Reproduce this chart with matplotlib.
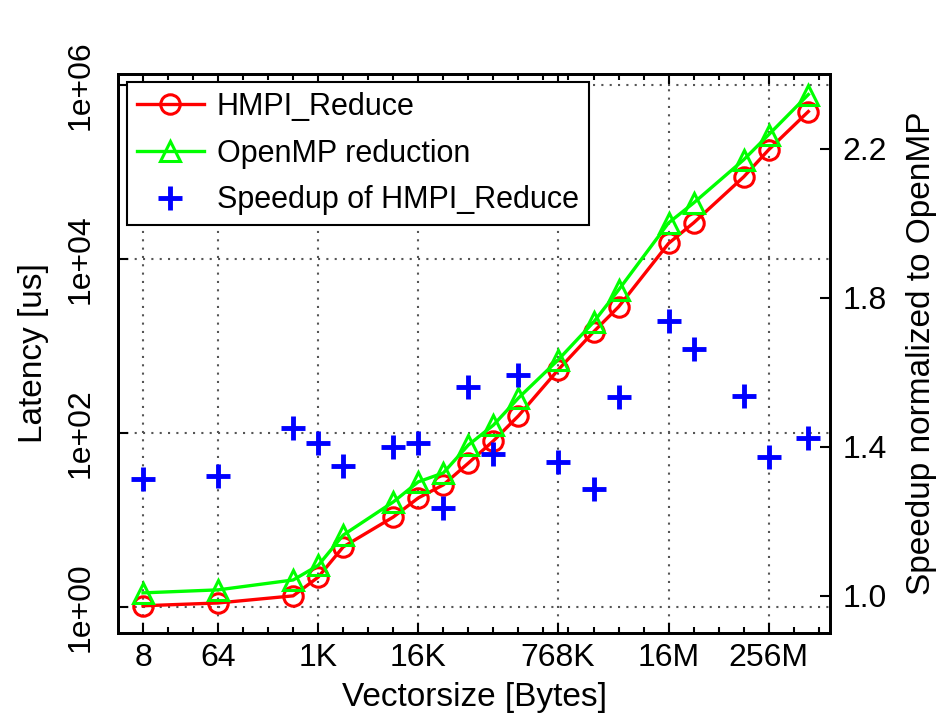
import matplotlib.pyplot as plt
import matplotlib
import numpy as np
from matplotlib.lines import Line2D

matplotlib.rcParams['font.family'] = ['Liberation Sans', 'DejaVu Sans']
matplotlib.rcParams['font.size'] = 23

# vector sizes in bytes
sizes = [8, 64, 512, 1024, 2048, 8192, 16384, 32768, 65536, 131072, 262144,
         786432, 2097152, 4194304, 16777216, 33554432, 134217728, 268435456, 805306368]
# latency [us]
hmpi = [1.03, 1.11, 1.34, 2.2, 4.9, 10.8, 17.9, 25.3, 45, 81, 157,
        530, 1450, 2810, 15100, 26000, 87700, 180000, 495000]
openmp = [1.45, 1.57, 2.04, 3.0, 6.7, 16.1, 27.4, 34.7, 72.6, 123, 252,
          690, 1875, 4390, 26000, 44000, 138000, 268000, 776000]
# speedup of HMPI_Reduce normalized to OpenMP
speedup = [1.314, 1.322, 1.451, 1.411, 1.349, 1.400, 1.411, 1.236, 1.561, 1.379, 1.593,
           1.360, 1.287, 1.532, 1.738, 1.663, 1.537, 1.373, 1.424]

xtick_vals = [8, 64, 1024, 16384, 786432, 16777216, 268435456]
xtick_labels = ['8', '64', '1K', '16K', '768K', '16M', '256M']
ytick_left = [1e0, 1e2, 1e4, 1e6]
ytick_left_labels = ['1e+00', '1e+02', '1e+04', '1e+06']
ytick_right = [1.0, 1.4, 1.8, 2.2]

x = np.log2(sizes)

fig = plt.figure(figsize=(9.38, 7.17), dpi=100)
ax = fig.add_axes([118 / 938, 1 - 633 / 717, (830 - 118) / 938, (633 - 74) / 717])
ax2 = ax.twinx()

ax.plot(x, hmpi, marker='o', color='red', lw=2.4, ms=14, mfc='none', mew=2.2, zorder=3)
ax.plot(x, openmp, marker='^', color='#00ff00', lw=2.4, ms=14, mfc='none', mew=2.2, zorder=3)
ax2.plot(x, speedup, '+', color='blue', ms=17, mew=3.5, zorder=3)

ax.set_yscale('log')
ax.set_xlim(2.0, 30.45)
ax.set_ylim(10 ** -0.30, 10 ** 6.126)
ax2.set_ylim(0.90, 2.40)

ax.set_xticks(np.log2(xtick_vals))
ax.set_xticklabels(xtick_labels)
ax.set_xticks(np.arange(3, 31), minor=True)
ax.set_yticks(ytick_left)
ax.set_yticklabels(ytick_left_labels, rotation=90, va='center')
ax.yaxis.set_minor_locator(matplotlib.ticker.NullLocator())
ax2.set_yticks(ytick_right)
ax2.set_yticklabels(['%.1f' % v for v in ytick_right])

ax.tick_params(axis='both', which='both', direction='in', top=True)
ax.tick_params(axis='x', which='major', length=7, width=1.5, pad=7)
ax.tick_params(axis='x', which='minor', length=4, width=1.5)
ax.tick_params(axis='y', which='major', length=7, width=1.5, pad=16)
ax2.tick_params(axis='y', direction='in', length=7, width=1.5, pad=9)

ax.grid(True, which='major', linestyle=(0, (1, 3)), color='#555555', linewidth=1.5)
for a in (ax, ax2):
    for s in a.spines.values():
        s.set_linewidth(2)

ax.set_xlabel('Vectorsize [Bytes]', fontsize=24, labelpad=7)
ax.set_ylabel('Latency [us]', fontsize=24, labelpad=12)
ax2.set_ylabel('Speedup normalized to OpenMP', fontsize=24, labelpad=14)

handles = [
    Line2D([], [], marker='o', color='red', lw=2.4, ms=14, mfc='none', mew=2.2),
    Line2D([], [], marker='^', color='#00ff00', lw=2.4, ms=14, mfc='none', mew=2.2),
    Line2D([], [], marker='+', color='blue', lw=0, ms=17, mew=3.5),
]
labels = ['HMPI_Reduce', 'OpenMP reduction', 'Speedup of HMPI_Reduce']
leg = ax2.legend(handles, labels, loc='upper left', bbox_to_anchor=(127 / 938, 1 - 82 / 717),
                 bbox_transform=fig.transFigure, fancybox=False, framealpha=1,
                 edgecolor='black', fontsize=22, handlelength=2.2, labelspacing=0.55,
                 borderpad=0.32, handletextpad=0.42, borderaxespad=0)
leg.get_frame().set_linewidth(1.5)

plt.savefig('out.png', dpi=100)
